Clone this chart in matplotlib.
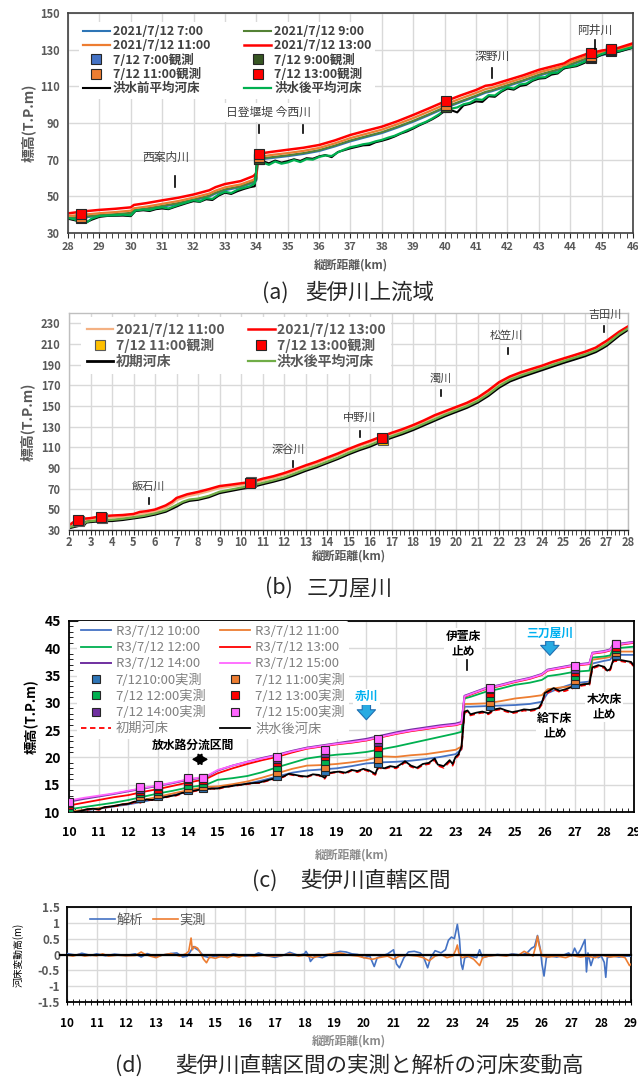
import matplotlib.pyplot as plt
from matplotlib.ticker import MultipleLocator, FuncFormatter

plt.rcParams['font.family'] = ['Noto Sans CJK JP', 'DejaVu Sans']

W, H = 638, 1080

# ---------------- (a) 斐伊川上流域 ----------------
km_wl_a = [28, 28.5, 29, 29.5, 30, 30.1, 30.5, 31, 31.5, 32, 32.5, 32.7, 33, 33.5, 33.9, 34.0, 34.05,
           34.5, 35, 35.5, 36, 36.5, 37, 37.5, 38, 38.5, 39, 39.5, 40, 40.5, 41, 41.3, 41.5, 42, 42.5,
           43, 43.5, 43.8, 44, 44.5, 45, 45.5, 46]
wl_0700_a = [37.9, 38.4, 39.4, 39.9, 40.5, 42.1, 43.0, 44.3, 45.8, 47.8, 49.9, 51.5, 53.3, 55.0, 57.4, 58.7, 70.0,
             70.9, 71.9, 73.1, 74.7, 77.2, 80.0, 82.3, 84.5, 87.5, 90.7, 94.3, 98.1, 101.3, 104.4, 106.5, 107.3,
             110.1, 112.8, 115.8, 118.2, 119.6, 121.5, 124.7, 127.0, 128.7, 131.3]
wl_0900_a = [38.3, 38.9, 39.8, 40.3, 41.0, 42.5, 43.4, 44.8, 46.3, 48.3, 50.4, 52.0, 53.8, 55.5, 58.0, 59.3, 70.5,
             71.4, 72.4, 73.6, 75.2, 77.7, 80.5, 82.8, 85.0, 88.0, 91.2, 94.8, 98.6, 101.8, 104.9, 107.0, 107.8,
             110.6, 113.3, 116.3, 118.7, 120.1, 122.0, 125.2, 127.5, 129.2, 131.8]
wl_1100_a = [39.3, 40.0, 40.8, 41.4, 42.2, 43.5, 44.4, 45.9, 47.4, 49.3, 51.5, 53.1, 54.9, 56.5, 59.0, 60.5, 71.5,
             72.6, 73.6, 74.8, 76.4, 78.9, 81.8, 84.1, 86.4, 89.4, 92.7, 96.3, 100.0, 103.3, 106.4, 108.5, 109.2,
             111.9, 114.6, 117.6, 119.9, 121.2, 123.1, 126.3, 128.4, 130.0, 132.6]
wl_1300_a = [40.7, 41.8, 42.6, 43.2, 44.0, 45.3, 46.3, 47.8, 49.2, 51.0, 53.3, 55.0, 56.7, 58.3, 61.0, 62.5, 73.2,
             74.3, 75.4, 76.5, 78.0, 80.5, 83.5, 85.8, 88.0, 91.0, 94.4, 98.0, 101.7, 105.0, 108.0, 110.3, 110.8,
             113.4, 116.0, 119.0, 121.2, 122.5, 124.5, 127.5, 129.5, 130.8, 133.5]

km_bed_a = [28.0, 28.2, 28.35, 28.5, 28.6, 28.75, 29.0, 29.25, 29.5, 29.75, 30.0, 30.15, 30.4, 30.6, 30.8,
            31.0, 31.2, 31.4, 31.6, 31.8, 32.0, 32.2, 32.4, 32.6, 32.8, 33.0, 33.2, 33.4, 33.6, 33.8, 33.95,
            34.02, 34.2, 34.4, 34.6, 34.8, 35.0, 35.2, 35.4, 35.6, 35.8, 36.0, 36.2, 36.4, 36.6, 36.8,
            37.0, 37.2, 37.4, 37.6, 37.8, 38.0, 38.2, 38.4, 38.6, 38.8, 39.0, 39.2, 39.4, 39.6, 39.8,
            40.0, 40.2, 40.4, 40.6, 40.8, 41.0, 41.2, 41.4, 41.6, 41.8, 42.0, 42.2, 42.4, 42.6, 42.8,
            43.0, 43.2, 43.4, 43.6, 43.8, 44.0, 44.2, 44.4, 44.6, 44.8, 45.0, 45.2, 45.4, 45.6, 45.8, 46.0]
bed_after_a = [38.2, 37.5, 36.2, 37.0, 35.8, 37.8, 39.3, 39.5, 39.7, 40.0, 39.6, 42.3, 42.8, 42.5, 43.5,
               44.0, 43.4, 44.6, 45.8, 46.8, 47.9, 47.2, 49.0, 48.6, 51.0, 52.5, 51.8, 53.6, 54.6, 55.5, 57.0,
               67.8, 68.5, 67.2, 69.0, 67.8, 68.5, 69.8, 68.7, 70.3, 70.0, 71.5, 72.3, 72.0, 74.0, 75.5,
               76.8, 77.5, 78.4, 78.9, 80.0, 80.8, 82.0, 83.0, 84.5, 86.0, 87.5, 89.2, 90.6, 92.4, 94.5,
               97.0, 97.8, 98.5, 100.2, 101.0, 103.0, 102.6, 105.2, 105.0, 107.5, 109.5, 108.8, 111.0, 111.5, 113.5,
               114.8, 115.0, 117.2, 117.5, 120.3, 120.8, 121.5, 123.0, 124.5, 126.0, 127.6, 128.7, 128.7, 129.5,
               130.5, 131.3]
bed_before_a = [37.8, 37.0, 36.5, 36.6, 36.0, 37.2, 38.8, 39.3, 39.4, 39.5, 39.2, 42.0, 42.4, 42.0, 43.0,
                43.4, 43.0, 44.2, 45.3, 46.4, 47.4, 47.0, 48.4, 48.0, 50.4, 52.0, 51.3, 52.8, 54.0, 55.0, 55.5,
                69.0, 69.2, 68.0, 69.5, 68.4, 69.2, 70.2, 69.3, 70.8, 70.5, 71.8, 72.5, 71.4, 74.2, 75.2,
                76.2, 77.0, 77.8, 78.0, 79.5, 80.3, 81.3, 82.6, 84.2, 85.4, 87.0, 88.8, 90.3, 92.0, 94.0,
                96.6, 97.0, 95.8, 99.6, 100.4, 101.8, 101.5, 104.6, 104.3, 107.0, 108.8, 108.2, 110.2, 110.8, 113.0,
                114.2, 114.5, 116.4, 117.0, 119.8, 120.4, 121.0, 122.4, 124.0, 125.6, 127.2, 128.3, 128.4, 129.1,
                130.1, 131.0]

obs_km_a = [28.4, 34.1, 40.05, 44.65, 45.3]
obs_0700_a = [38.0, 70.2, 98.5, 125.5, 129.5]
obs_0900_a = [38.5, 70.5, 99.0, 126.0, 129.8]
obs_1100_a = [39.0, 71.2, 99.8, 126.8, 130.0]
obs_1300_a = [40.2, 73.0, 102.0, 128.3, 130.2]

# ---------------- (b) 三刀屋川 ----------------
km_wl_b = [2.0, 2.2, 2.4, 2.7, 3.0, 3.5, 4.0, 4.5, 5.0, 5.3, 5.6, 6.0, 6.5, 6.8, 7.0, 7.5, 8.0, 8.5, 9.0, 9.5,
           10.0, 10.5, 11.0, 11.5, 12.0, 12.5, 13.0, 13.5, 14.0, 14.5, 15.0, 15.5, 16.0, 16.5, 17.0, 17.5,
           18.0, 18.5, 19.0, 19.5, 20.0, 20.5, 21.0, 21.5, 22.0, 22.5, 23.0, 23.5, 24.0, 24.5, 25.0, 25.5,
           26.0, 26.5, 26.8, 27.0, 27.3, 27.6, 28.0]
wl_1100_b = [33.5, 36.0, 38.0, 39.2, 39.8, 41.5, 42.0, 42.5, 43.4, 45.2, 46.0, 47.6, 51.6, 55.3, 58.8, 62.6, 64.8,
             67.5, 70.6, 72.0, 73.4, 74.8, 77.8, 80.2, 83.2, 86.9, 90.8, 94.4, 98.4, 102.5, 106.9, 111.0, 114.8,
             118.8, 122.6, 126.2, 130.2, 134.7, 139.6, 143.7, 147.7, 151.7, 156.6, 163.6, 171.5, 177.1, 181.1,
             184.5, 187.7, 191.5, 194.8, 198.0, 201.3, 205.3, 209.3, 211.8, 216.3, 220.9, 226.0]
wl_1300_b = [34.5, 37.5, 40.0, 41.0, 41.5, 43.3, 44.0, 44.5, 45.5, 47.5, 48.2, 49.8, 53.8, 57.5, 61.0, 64.6, 66.8,
             69.5, 72.5, 73.8, 75.2, 76.6, 79.6, 82.0, 85.0, 88.6, 92.5, 96.0, 100.0, 104.0, 108.4, 112.5, 116.2,
             120.2, 124.0, 127.5, 131.5, 136.0, 141.0, 145.0, 149.0, 153.0, 158.0, 165.0, 173.0, 178.5, 182.5,
             185.8, 189.0, 192.8, 196.0, 199.2, 202.5, 206.5, 210.5, 213.0, 217.5, 222.0, 227.0]

km_bed_b = [2.0, 2.3, 2.5, 2.7, 2.8, 3.0, 3.5, 4.0, 4.5, 5.0, 5.5, 6.0, 6.5, 7.0, 7.3, 7.6, 8.0, 8.5, 9.0, 9.5,
            10.0, 10.5, 11.0, 11.5, 12.0, 12.5, 13.0, 13.5, 14.0, 14.5, 15.0, 15.5, 16.0, 16.5, 17.0, 17.5,
            18.0, 18.5, 19.0, 19.5, 20.0, 20.5, 21.0, 21.5, 22.0, 22.5, 23.0, 23.5, 24.0, 24.5, 25.0, 25.5,
            26.0, 26.5, 26.8, 27.0, 27.3, 27.6, 28.0]
bed_init_b = [32.0, 33.5, 34.5, 35.0, 37.5, 38.0, 38.8, 39.0, 40.0, 41.5, 43.0, 45.2, 48.0, 53.0, 56.5, 58.5,
              59.5, 62.0, 66.0, 68.0, 70.0, 71.8, 74.5, 77.0, 79.8, 83.5, 87.5, 91.0, 95.0, 99.0, 103.5, 107.5,
              111.0, 115.5, 119.5, 123.0, 127.0, 131.5, 136.0, 140.5, 144.5, 148.5, 153.5, 160.0, 168.0, 174.0,
              178.0, 181.5, 185.0, 188.5, 192.0, 195.2, 198.5, 202.5, 206.0, 208.5, 213.5, 218.5, 224.0]
bed_after_b = [32.8, 34.0, 35.2, 35.8, 37.8, 38.6, 39.4, 39.8, 40.8, 42.2, 43.8, 46.0, 49.0, 54.2, 57.4, 59.5,
               60.4, 63.0, 67.0, 69.0, 71.0, 72.8, 75.5, 78.0, 80.8, 84.6, 88.6, 92.0, 96.0, 100.0, 104.6, 108.6,
               112.2, 116.6, 120.6, 124.2, 128.2, 132.7, 137.2, 141.7, 145.7, 149.7, 154.7, 161.3, 169.3, 175.3,
               179.3, 182.8, 186.3, 189.8, 193.3, 196.6, 199.8, 203.8, 207.3, 209.8, 214.8, 219.8, 225.0]

obs_km_b = [2.4, 3.47, 10.4, 16.55]
obs_1100_b = [38.5, 41.8, 76.5, 117.5]
obs_1300_b = [39.7, 42.5, 75.2, 118.8]

# ---------------- (c) 斐伊川直轄区間 ----------------
km_wl_c = [10, 10.5, 11, 11.5, 12, 12.5, 13, 13.5, 14, 14.5, 14.7, 15, 15.5, 16, 16.5, 17, 17.5, 18, 18.5, 19,
           19.5, 20, 20.5, 21, 21.5, 22, 22.5, 23, 23.2, 23.3, 23.5, 24, 24.5, 25, 25.5, 25.9, 26.1, 26.5, 27,
           27.5, 27.6, 28, 28.2, 28.3, 28.6, 29]
wl_10_c = [9.95, 10.3, 10.6, 11.0, 11.4, 11.9, 12.5, 13.1, 13.7, 14.2, 14.3, 14.4, 14.8, 15.2, 15.8, 16.5, 17.2,
           17.6, 17.8, 18.0, 18.4, 18.9, 19.1, 19.2, 19.4, 19.7, 20.1, 20.6, 21.5, 29.3, 29.3, 29.4, 29.5, 29.6,
           29.8, 30.2, 31.8, 32.7, 33.6, 33.9, 37.2, 37.7, 37.9, 38.8, 38.8, 38.8]
wl_11_c = [10.05, 10.4, 10.7, 11.1, 11.6, 12.2, 12.8, 13.4, 14.0, 14.5, 14.6, 14.7, 15.1, 15.6, 16.3, 17.1, 17.9,
           18.5, 18.6, 18.8, 19.1, 19.5, 20.2, 20.1, 20.4, 20.6, 21.0, 21.4, 22.0, 29.8, 29.8, 29.9, 30.3, 30.8,
           31.1, 31.4, 32.5, 32.8, 33.1, 33.6, 37.9, 38.2, 38.4, 39.4, 39.4, 39.4]
wl_12_c = [10.5, 10.9, 11.3, 11.7, 12.2, 12.8, 13.4, 13.9, 14.5, 14.9, 15.2, 15.9, 16.2, 16.6, 17.3, 18.2, 19.0,
           19.8, 20.2, 20.5, 20.7, 21.0, 21.5, 22.0, 22.6, 23.2, 23.8, 24.4, 24.7, 30.8, 31.1, 32.0, 32.6, 33.3,
           33.7, 34.2, 34.9, 35.2, 35.7, 35.9, 38.3, 38.5, 38.7, 40.0, 40.1, 40.3]
wl_13_c = [11.2, 11.7, 12.2, 12.7, 13.1, 13.7, 14.2, 14.8, 15.4, 15.9, 16.3, 17.1, 18.0, 18.8, 19.5, 20.1, 20.9,
           21.6, 22.0, 22.4, 22.7, 23.1, 23.7, 24.3, 24.8, 25.2, 25.6, 25.9, 26.2, 31.1, 31.5, 32.5, 33.1, 33.8,
           34.4, 35.1, 35.9, 36.3, 36.8, 37.1, 39.0, 39.3, 39.6, 40.5, 40.7, 41.0]
wl_14_c = [11.9, 12.4, 12.85, 13.3, 13.8, 14.3, 14.8, 15.3, 15.9, 16.3, 16.7, 17.6, 18.5, 19.2, 19.9, 20.5, 21.2,
           21.8, 22.2, 22.6, 23.0, 23.4, 24.0, 24.6, 25.1, 25.5, 25.9, 26.2, 26.5, 31.3, 31.7, 32.7, 33.3, 34.0,
           34.6, 35.3, 36.1, 36.5, 37.0, 37.3, 39.2, 39.5, 39.8, 40.7, 40.9, 41.2]
wl_15_c = [12.1, 12.6, 13.0, 13.4, 13.9, 14.4, 14.9, 15.4, 16.0, 16.4, 16.8, 17.7, 18.5, 19.2, 19.8, 20.4, 21.1,
           21.7, 22.1, 22.5, 22.8, 23.2, 23.8, 24.4, 24.9, 25.3, 25.7, 26.0, 26.3, 31.2, 31.6, 32.6, 33.2, 33.9,
           34.5, 35.2, 36.0, 36.4, 36.9, 37.2, 39.1, 39.4, 39.7, 40.6, 40.8, 41.1]

km_bed_c = [10.0, 10.2, 10.4, 10.6, 10.8, 11.0, 11.2, 11.4, 11.6, 11.8,
            12.0, 12.2, 12.4, 12.6, 12.8, 13.0, 13.2, 13.4, 13.6, 13.8,
            14.0, 14.2, 14.4, 14.6, 14.8, 15.0, 15.2, 15.4, 15.6, 15.8,
            16.0, 16.2, 16.4, 16.6, 16.8, 17.0, 17.2, 17.4, 17.6, 17.8,
            18.0, 18.2, 18.4, 18.6, 18.7, 18.9, 19.1, 19.3, 19.5, 19.7, 19.9,
            20.1, 20.3, 20.4, 20.6, 20.8, 21.0, 21.2, 21.3, 21.5, 21.7, 21.9,
            22.1, 22.3, 22.4, 22.6, 22.8, 22.9, 23.0, 23.1, 23.2, 23.3, 23.4, 23.5, 23.7, 23.9,
            24.1, 24.3, 24.5, 24.7, 24.9, 25.1, 25.3, 25.5, 25.7, 25.8, 25.9,
            26.0, 26.2, 26.3, 26.5, 26.7, 26.9, 27.1, 27.3, 27.5, 27.6, 27.8,
            28.0, 28.1, 28.2, 28.3, 28.5, 28.7, 28.9, 29.0]
bed_after_c = [9.9, 10.0, 10.2, 10.5, 10.6, 10.5, 10.9, 11.0, 11.2, 11.4,
               11.5, 11.9, 11.8, 12.3, 12.2, 12.4, 12.7, 12.9, 13.1, 13.5,
               13.6, 13.9, 14.1, 14.2, 14.3, 14.3, 14.6, 14.7, 14.9, 15.0,
               15.2, 15.3, 15.4, 15.7, 16.0, 16.2, 16.5, 17.0, 16.8, 16.6,
               16.5, 16.9, 16.8, 16.3, 17.1, 17.3, 17.4, 17.2, 17.7, 17.5, 17.9,
               17.6, 17.0, 18.3, 18.0, 18.4, 18.2, 18.9, 19.3, 18.5, 18.1, 18.8,
               19.0, 19.8, 18.7, 18.4, 19.5, 18.8, 20.1, 20.6, 22.0, 28.4, 28.6, 27.9, 28.2, 28.4,
               28.1, 28.8, 29.0, 28.6, 28.3, 28.5, 28.8, 28.7, 28.9, 29.1, 30.0,
               31.8, 32.4, 32.7, 32.2, 32.5, 32.9, 33.2, 33.4, 33.5, 36.5, 36.9,
               36.6, 35.9, 36.2, 37.8, 37.9, 37.7, 37.5, 36.8]
bed_init_c = [9.8, 10.0, 10.1, 10.4, 10.6, 10.4, 10.8, 11.0, 11.1, 11.4,
              11.4, 11.8, 11.7, 12.2, 12.2, 12.3, 12.6, 12.9, 13.0, 13.4,
              13.5, 13.8, 14.0, 14.1, 14.3, 14.2, 14.5, 14.7, 14.8, 15.0,
              15.1, 15.3, 15.3, 15.6, 15.9, 16.1, 16.4, 16.9, 16.7, 16.5,
              16.4, 16.8, 16.7, 16.1, 17.0, 17.2, 17.3, 17.0, 17.6, 17.3, 17.8,
              17.4, 16.8, 18.1, 17.9, 18.2, 18.0, 18.7, 19.1, 18.3, 17.9, 18.6,
              18.8, 19.5, 18.5, 18.1, 19.2, 18.5, 19.8, 20.4, 21.6, 28.2, 28.4, 27.7, 28.0, 28.2,
              27.9, 28.6, 28.8, 28.4, 28.1, 28.3, 28.6, 28.5, 28.7, 28.9, 29.7,
              31.5, 32.2, 32.5, 32.0, 32.2, 32.6, 33.0, 33.2, 33.3, 36.3, 36.7,
              36.4, 35.7, 36.0, 37.6, 37.7, 37.5, 37.3, 36.6]

obs_km_c = [10.0, 12.4, 13.0, 14.0, 14.5, 17.0, 18.6, 20.4, 24.15, 27.0, 28.4]
obs_10_c = [10.1, 12.6, 13.0, 14.0, 14.4, 16.6, 17.5, 19.0, 29.4, 33.5, 38.8]
obs_11_c = [10.4, 13.0, 13.3, 14.4, 14.8, 17.3, 18.2, 19.8, 30.2, 34.2, 39.3]
obs_12_c = [10.8, 13.5, 13.8, 15.0, 15.3, 18.2, 19.3, 20.8, 31.0, 35.0, 39.8]
obs_13_c = [11.2, 13.9, 14.3, 15.6, 15.8, 19.2, 20.3, 22.0, 31.8, 35.6, 40.3]
obs_14_c = [11.6, 14.3, 14.8, 16.0, 16.2, 19.8, 20.9, 22.8, 32.5, 36.2, 40.7]
obs_15_c = [11.8, 14.5, 14.9, 16.3, 16.3, 20.1, 21.3, 23.3, 32.8, 36.8, 40.8]

# ---------------- (d) 河床変動高 ----------------
km_calc_d = [10.0, 10.3, 10.5, 10.8, 11.0, 11.3, 11.6, 12.0, 12.3, 12.5, 12.7, 13.0, 13.2, 13.5, 13.7, 13.9,
             14.05, 14.15, 14.25, 14.35, 14.45, 14.6, 14.8, 15.0, 15.3, 15.6, 16.0, 16.3, 16.45, 16.7, 17.0,
             17.3, 17.5, 17.8, 18.0, 18.05, 18.15, 18.2, 18.35, 18.6, 18.8, 19.0, 19.2, 19.4, 19.6, 19.8, 20.0,
             20.2, 20.35, 20.45, 20.6, 20.8, 21.0, 21.1, 21.2, 21.35, 21.5, 21.7, 21.9, 22.0, 22.15, 22.25,
             22.4, 22.6, 22.75, 22.85, 22.95, 23.05, 23.15, 23.22, 23.28, 23.33, 23.4, 23.6, 23.8, 23.9, 24.0,
             24.2, 24.5, 24.8, 25.0, 25.3, 25.5, 25.65, 25.75, 25.85, 25.95, 26.0, 26.07, 26.15, 26.3, 26.5,
             26.7, 26.9, 27.0, 27.1, 27.2, 27.3, 27.45, 27.5, 27.55, 27.65, 27.75, 27.9, 28.0, 28.1, 28.15,
             28.2, 28.4, 28.6, 28.8, 29.0]
dz_calc_d = [0.03, -0.02, 0.04, -0.03, 0.02, -0.04, 0.01, -0.03, 0.02, -0.08, 0.03, -0.07, -0.02, 0.03, 0.05, -0.08,
             -0.05, 0.08, 0.25, 0.18, 0.12, -0.05, -0.1, -0.05, -0.08, 0.02, -0.05, -0.02, 0.05, -0.03, -0.09,
             -0.02, 0.07, -0.03, 0.02, 0.1, -0.05, -0.22, -0.05, -0.1, -0.02, 0.05, 0.1, 0.08, 0.02, 0.0, -0.1,
             -0.05, -0.38, -0.1, -0.05, 0.02, 0.15, -0.3, -0.42, -0.1, 0.08, 0.1, 0.05, -0.05, -0.42, -0.1,
             0.12, 0.05, 0.15, 0.45, 0.55, 0.5, 0.95, 0.5, -0.3, -0.47, -0.1, -0.05, -0.1, 0.15, -0.1,
             -0.05, 0.0, -0.03, 0.02, -0.02, 0.05, 0.2, 0.25, 0.6, 0.15, -0.3, -0.68, -0.1, -0.05, -0.08,
             -0.03, 0.05, -0.05, 0.2, 0.0, 0.15, 0.47, -0.55, 0.05, -0.35, -0.05, -0.1, -0.05, -0.25, -0.72,
             -0.1, -0.05, -0.08, -0.05, -0.05]
km_meas_d = [10.0, 10.2, 10.4, 10.6, 10.8, 11.0, 11.2, 11.4, 11.7, 12.0, 12.3, 12.5, 12.6, 12.8, 13.0, 13.2,
             13.5, 13.8, 14.0, 14.1, 14.18, 14.22, 14.3, 14.4, 14.5, 14.6, 14.7, 14.8, 15.0, 15.2, 15.4, 15.6,
             15.8, 16.0, 16.3, 16.6, 16.9, 17.2, 17.5, 17.8, 18.0, 18.3, 18.6, 18.9, 19.2, 19.5, 19.8, 20.0,
             20.3, 20.5, 20.8, 21.0, 21.2, 21.5, 21.8, 22.0, 22.2, 22.4, 22.6, 22.8, 23.0, 23.1, 23.15, 23.2,
             23.3, 23.5, 23.7, 23.85, 23.9, 24.0, 24.2, 24.5, 24.8, 25.0, 25.2, 25.4, 25.5, 25.7, 25.8, 25.85,
             25.9, 26.0, 26.2, 26.5, 26.8, 27.0, 27.3, 27.5, 27.8, 28.0, 28.3, 28.6, 28.8, 28.95, 29.0]
dz_meas_d = [-0.02, -0.05, 0.0, -0.05, -0.02, -0.04, 0.02, -0.05, -0.02, -0.04, -0.03, 0.08, 0.02, -0.05, -0.1,
             -0.02, 0.03, -0.05, 0.02, 0.1, 0.52, 0.15, 0.25, 0.2, 0.05, -0.15, -0.26, -0.08, -0.12, -0.05, -0.1,
             -0.03, -0.08, -0.02, -0.06, -0.02, -0.05, -0.04, 0.02, -0.05, -0.02, -0.1, -0.02, 0.02, 0.05, -0.02,
             -0.05, -0.1, -0.15, -0.1, -0.05, -0.15, -0.05, -0.02, -0.05, -0.1, -0.2, -0.05, 0.0, -0.1, -0.05,
             0.15, 0.3, 0.05, -0.1, -0.05, -0.15, -0.3, -0.35, -0.1, -0.05, -0.02, -0.05, 0.0, -0.03, 0.1, 0.05,
             -0.05, 0.3, 0.58, 0.3, -0.05, -0.08, -0.05, -0.1, -0.03, -0.08, -0.05, -0.1, -0.02, -0.08, -0.05,
             -0.1, -0.35, -0.3]

GRID = '#D9D9D9'
GREY = '#595959'

fig = plt.figure(figsize=(W / 100, H / 100), dpi=100)


def px_axes(l, t, r, b):
    # place an axes by its pixel box (left, top, right, bottom)
    return fig.add_axes([l / W, 1 - b / H, (r - l) / W, (b - t) / H])


def fig_text(x, y, s, **kw):
    fig.text(x / W, 1 - y / H, s, **kw)


def caption(x_tag, x_title, y, tag, title):
    # the "(a)" tag and the title sit apart, like in the report
    fig_text(x_tag, y, tag, fontsize=15.5, ha='left', va='center', color='#262626')
    fig_text(x_title, y, title, fontsize=15.5, ha='left', va='center', color='#262626')


def bold_ticks(ax, xcolor, ycolor, xsize, ysize):
    for lab in ax.get_xticklabels():
        lab.set_fontweight('bold')
        lab.set_color(xcolor)
        lab.set_fontsize(xsize)
    for lab in ax.get_yticklabels():
        lab.set_fontweight('bold')
        lab.set_color(ycolor)
        lab.set_fontsize(ysize)


def sq(ax, x, y, color, edge='#262626', ms=7, z=6):
    return ax.plot(x, y, ls='none', marker='s', ms=ms, mfc=color, mec=edge, mew=0.8, zorder=z)[0]


def tick_mark(ax, x, y0, y1):
    ax.plot([x, x], [y0, y1], color='black', lw=1.2, zorder=7)


# ============ (a) ============
ax = px_axes(68, 13, 633, 233)
ax.set_xlim(28, 46)
ax.set_ylim(30, 150)
ax.set_xticks(range(28, 47))
ax.set_yticks(range(30, 151, 20))
ax.xaxis.set_minor_locator(MultipleLocator(0.2))
ax.grid(True, color=GRID, lw=1)
ax.set_axisbelow(True)
for s in ax.spines.values():
    s.set_color('#404040')
    s.set_linewidth(1.2)
ax.tick_params(axis='x', which='both', direction='out', length=3.5, color='#262626', pad=3)
ax.tick_params(axis='y', length=0, pad=6)
bold_ticks(ax, GREY, GREY, 7.8, 8)

l07, = ax.plot(km_wl_a, wl_0700_a, color='#2E75B6', lw=1.5)
l09, = ax.plot(km_wl_a, wl_0900_a, color='#548235', lw=1.5)
l11, = ax.plot(km_wl_a, wl_1100_a, color='#ED7D31', lw=1.6)
l13, = ax.plot(km_wl_a, wl_1300_a, color='#FF0000', lw=1.8)
lbb, = ax.plot(km_bed_a, bed_before_a, color='black', lw=1.5)
lba, = ax.plot(km_bed_a, bed_after_a, color='#00B050', lw=1.6)
m07 = sq(ax, obs_km_a, obs_0700_a, '#4472C4')
m09 = sq(ax, obs_km_a, obs_0900_a, '#375623')
m11 = sq(ax, obs_km_a, obs_1100_a, '#ED7D31')
m13 = sq(ax, obs_km_a, obs_1300_a, '#FF0000')

handles = [l07, l11, m07, m11, lbb, l09, l13, m09, m13, lba]
labels = ['2021/7/12 7:00', '2021/7/12 11:00', '7/12 7:00観測', '7/12 11:00観測', '洪水前平均河床',
          '2021/7/12 9:00', '2021/7/12 13:00', '7/12 9:00観測', '7/12 13:00観測', '洪水後平均河床']
ax.legend(handles, labels, ncol=2, loc='upper left', bbox_to_anchor=(0.02, 0.96),
          prop={'weight': 'bold', 'size': 9}, labelcolor='#404040', frameon=True,
          facecolor='white', edgecolor='none', framealpha=1, borderaxespad=0, borderpad=0.27,
          handlelength=2.16, handletextpad=0.24, columnspacing=2.75, labelspacing=0.1)

note = dict(fontsize=8.5, color='#404040', ha='center', va='center', zorder=8)
ax.text(31.1, 71.4, '西案内川', **note)
tick_mark(ax, 31.4, 61, 55)
ax.text(34.39, 95.6, '日登堰堤 今西川', bbox=dict(fc='white', ec='none', pad=2), **note)
tick_mark(ax, 34.1, 88.9, 84.5)
tick_mark(ax, 35.5, 88.9, 84.5)
ax.text(41.5, 126.2, '深野川', **note)
tick_mark(ax, 41.5, 120, 114.5)
ax.text(44.79, 140.3, '阿井川', **note)
tick_mark(ax, 44.8, 135.3, 130.5)

ax.set_ylabel('標高(T.P.m)', fontsize=10, fontweight='bold', color=GREY, labelpad=3)
ax.set_xlabel('縦断距離(km)', fontsize=8.5, fontweight='bold', color=GREY, labelpad=5)
caption(262, 305, 293, '(a)', '斐伊川上流域')

# ============ (b) ============
ax = px_axes(69, 313, 628, 530)
ax.set_xlim(2, 28)
ax.set_ylim(30, 240)
ax.set_xticks(range(2, 29))
ax.set_yticks(range(30, 231, 20))
ax.xaxis.set_minor_locator(MultipleLocator(0.2))
ax.grid(True, color=GRID, lw=1)
ax.set_axisbelow(True)
for s in ax.spines.values():
    s.set_color('#BFBFBF')
    s.set_linewidth(1)
ax.spines['bottom'].set_color('#262626')
ax.tick_params(axis='x', which='both', direction='out', length=3.5, color='#262626', pad=1)
ax.tick_params(axis='y', length=0, pad=6)
bold_ticks(ax, GREY, GREY, 8, 8)

lb11, = ax.plot(km_wl_b, wl_1100_b, color='#F4B183', lw=1.6)
lb13, = ax.plot(km_wl_b, wl_1300_b, color='#FF0000', lw=1.8)
lbi, = ax.plot(km_bed_b, bed_init_b, color='black', lw=2.0)
lba2, = ax.plot(km_bed_b, bed_after_b, color='#70AD47', lw=1.6)
mb11 = sq(ax, [k + 0.05 for k in obs_km_b], obs_1100_b, '#FFC000', edge='#595959')
mb13 = sq(ax, obs_km_b, obs_1300_b, '#FF0000')

handles = [lb11, mb11, lbi, lb13, mb13, lba2]
labels = ['2021/7/12 11:00', '7/12 11:00観測', '初期河床', '2021/7/12 13:00', '7/12 13:00観測', '洪水後平均河床']
ax.legend(handles, labels, ncol=2, loc='upper left', bbox_to_anchor=(0.014, 1.0),
          prop={'weight': 'bold', 'size': 10}, labelcolor=GREY, frameon=True,
          facecolor='white', edgecolor='none', framealpha=1, borderaxespad=0.3,
          handlelength=1.94, handletextpad=0.15, columnspacing=1.7, labelspacing=0.1)

note_b = dict(note, fontsize=8)
ax.text(5.69, 71.9, '飯石川', **note_b)
tick_mark(ax, 5.72, 61, 55)
ax.text(12.2, 108.1, '深谷川', **note_b)
tick_mark(ax, 12.41, 96.8, 91)
ax.text(15.53, 138.1, '中野川', **note_b)
tick_mark(ax, 15.53, 125.8, 120)
ax.text(19.29, 176.9, '濁川', **note_b)
tick_mark(ax, 19.29, 165.5, 159.5)
ax.text(22.36, 217.8, '松笠川', **note_b)
tick_mark(ax, 22.4, 206.2, 200.2)
ax.text(26.93, 238.1, '吉田川', **note_b)
tick_mark(ax, 26.9, 227.5, 221.5)

ax.set_ylabel('標高(T.P.m)', fontsize=10, fontweight='bold', color=GREY, labelpad=4)
ax.set_xlabel('縦断距離(km)', fontsize=8.5, fontweight='bold', color=GREY, labelpad=0)
caption(265, 307, 588, '(b)', '三刀屋川')

# ============ (c) ============
ax = px_axes(69, 621, 634, 812)
ax.set_xlim(10, 29)
ax.set_ylim(10, 45)
ax.set_xticks(range(10, 30))
ax.set_yticks(range(10, 46, 5))
ax.xaxis.set_minor_locator(MultipleLocator(0.2))
ax.yaxis.set_minor_locator(MultipleLocator(1))
ax.grid(True, color=GRID, lw=1)
ax.set_axisbelow(True)
for s in ax.spines.values():
    s.set_color('black')
    s.set_linewidth(1.3)
ax.tick_params(axis='both', which='both', direction='in', color='black')
ax.tick_params(axis='both', which='major', length=0)
ax.tick_params(axis='both', which='minor', length=3)
ax.tick_params(axis='x', pad=10)
ax.tick_params(axis='y', pad=6)
bold_ticks(ax, 'black', 'black', 9, 10)

c10, = ax.plot(km_wl_c, wl_10_c, color='#4472C4', lw=1.3)
c11, = ax.plot(km_wl_c, wl_11_c, color='#ED7D31', lw=1.3)
c12, = ax.plot(km_wl_c, wl_12_c, color='#00B050', lw=1.3)
c13, = ax.plot(km_wl_c, wl_13_c, color='#FF0000', lw=1.3)
c14, = ax.plot(km_wl_c, wl_14_c, color='#7030A0', lw=1.4)
c15, = ax.plot(km_wl_c, wl_15_c, color='#FF66FF', lw=1.3)
ci, = ax.plot(km_bed_c, bed_init_c, color='#FF0000', lw=1.3, ls=(0, (3, 2)))
ca, = ax.plot(km_bed_c, bed_after_c, color='black', lw=1.3)
n10 = sq(ax, obs_km_c, obs_10_c, '#2E75B6', ms=6)
n11 = sq(ax, obs_km_c, obs_11_c, '#ED7D31', ms=6)
n12 = sq(ax, obs_km_c, obs_12_c, '#00B050', ms=6)
n13 = sq(ax, obs_km_c, obs_13_c, '#FF0000', ms=6)
n14 = sq(ax, obs_km_c, obs_14_c, '#7030A0', ms=6)
n15 = sq(ax, obs_km_c, obs_15_c, '#FF66FF', ms=6)

handles = [c10, c12, c14, n10, n12, n14, ci, c11, c13, c15, n11, n13, n15, ca]
labels = ['R3/7/12 10:00', 'R3/7/12 12:00', 'R3/7/12 14:00', '7/1210:00実測', '7/12 12:00実測',
          '7/12 14:00実測', '初期河床', 'R3/7/12 11:00', 'R3/7/12 13:00', 'R3/7/12 15:00',
          '7/12 11:00実測', '7/12 13:00実測', '7/12 15:00実測', '洪水後河床']
ax.legend(handles, labels, ncol=2, loc='upper left', bbox_to_anchor=(0.014, 1.0),
          prop={'size': 9.5}, labelcolor='#808080', frameon=True,
          facecolor='white', edgecolor='none', framealpha=1, borderaxespad=0, borderpad=0.3,
          handlelength=2.27, handletextpad=0.36, columnspacing=1.15, labelspacing=0.245)

ax.text(14.18, 22.3, '放水路分流区間', fontsize=8.5, fontweight='bold', ha='center', va='center', zorder=8)
ax.annotate('', xy=(14.68, 19.65), xytext=(14.13, 19.65),
            arrowprops=dict(arrowstyle='<|-|>,head_length=0.6,head_width=0.35', color='black',
                            lw=1.2, mutation_scale=10, shrinkA=0, shrinkB=0))
cyan = dict(fontsize=8.5, fontweight='bold', color='#00B0F0', ha='center', va='center', zorder=8)
arrow = dict(arrowstyle='simple,head_width=1.1,head_length=0.6,tail_width=0.5', fc='#29ABE2',
             ec='#1F6FB2', lw=0.8, mutation_scale=12, shrinkA=0, shrinkB=0)
ax.text(20.0, 31.1, '赤川', bbox=dict(fc='white', ec='none', pad=1), **cyan)
ax.annotate('', xy=(20.0, 26.9), xytext=(20.0, 29.7), arrowprops=arrow)
ax.text(26.17, 42.7, '三刀屋川', bbox=dict(fc='white', ec='none', pad=1), **cyan)
ax.annotate('', xy=(26.17, 38.7), xytext=(26.17, 41.3), arrowprops=arrow)
blk = dict(fontsize=8.5, fontweight='bold', ha='center', va='center', linespacing=1.1, zorder=8,
           bbox=dict(fc='white', ec='none', pad=1))
ax.text(23.26, 40.9, '伊萱床\n止め', **blk)
tick_mark(ax, 23.37, 37.9, 36.0)
ax.text(26.34, 25.9, '給下床\n止め', **blk)
ax.text(28.0, 29.3, '木次床\n止め', **blk)

ax.set_ylabel('標高(T.P.m)', fontsize=9.5, fontweight='bold', color='black', labelpad=4)
ax.set_xlabel('縦断距離(km)', fontsize=8.5, fontweight='bold', color='#8C8C8C', labelpad=7)
caption(252, 300, 881, '(c)', '斐伊川直轄区間')

# ============ (d) ============
ax = px_axes(67, 907, 631, 1002)
ax.set_xlim(10, 29)
ax.set_ylim(-1.5, 1.5)
ax.set_xticks(range(10, 30))
ax.set_yticks([1.5, 1, 0.5, 0, -0.5, -1, -1.5])
ax.yaxis.set_major_formatter(FuncFormatter(lambda v, p: '%g' % v))
ax.xaxis.set_minor_locator(MultipleLocator(0.2))
ax.grid(True, color=GRID, lw=1)
ax.set_axisbelow(True)
for s in ax.spines.values():
    s.set_color('black')
    s.set_linewidth(1.3)
ax.tick_params(axis='x', which='both', direction='inout', length=4, color='black', pad=8.5)
ax.tick_params(axis='y', length=0, pad=5)
bold_ticks(ax, 'black', GREY, 8.5, 8.5)

ax.plot([9.75, 29], [0, 0], color='black', lw=1.6, clip_on=False, zorder=5)
d1, = ax.plot(km_calc_d, dz_calc_d, color='#4472C4', lw=1.2, zorder=3)
d2, = ax.plot(km_meas_d, dz_meas_d, color='#ED7D31', lw=1.2, zorder=4)
ax.legend([d1, d2], ['解析', '実測'], ncol=2, loc='upper left', bbox_to_anchor=(0.031, 0.985),
          prop={'size': 9.5}, labelcolor=GREY, frameon=False, handlelength=1.9,
          handletextpad=0.1, columnspacing=0.76, borderaxespad=0)

ax.set_ylabel('河床変動高(m)', fontsize=7, color='black', labelpad=10)
ax.set_xlabel('縦断距離(km)', fontsize=8.5, fontweight='bold', color='#8C8C8C', labelpad=3.5)
caption(115, 175, 1066, '(d)', '斐伊川直轄区間の実測と解析の河床変動高')

fig.savefig('out.png', dpi=100)
